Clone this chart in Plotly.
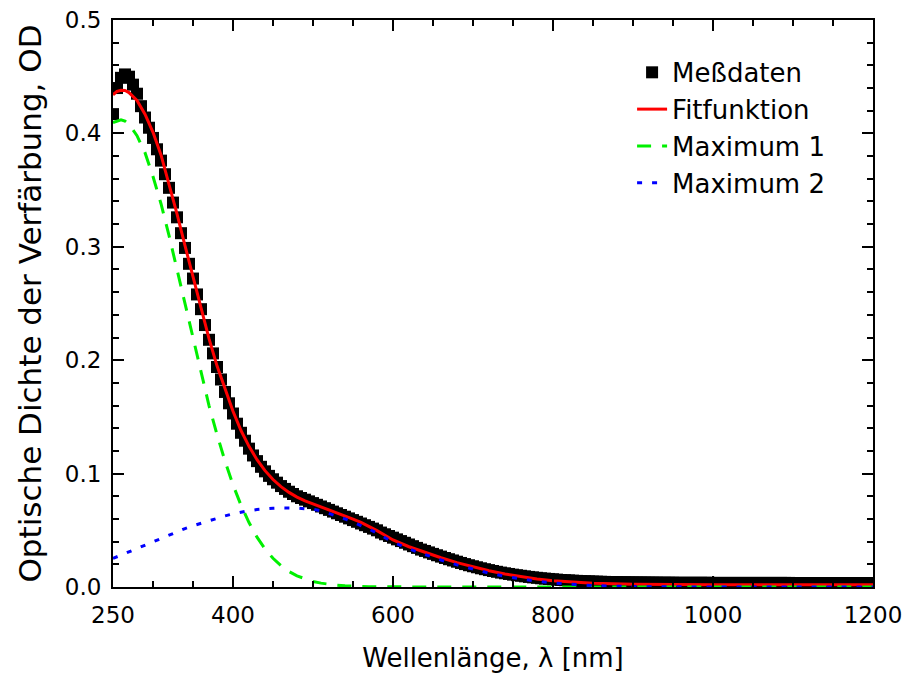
import plotly.graph_objects as go

# Measured data (5 nm grid)
wl_data = list(range(250, 1201, 5))
od_data = [
    0.417, 0.440, 0.449, 0.452, 0.450, 0.443, 0.435, 0.424, 0.414, 0.405,
    0.396, 0.386, 0.376, 0.364, 0.352, 0.339, 0.326, 0.312, 0.299, 0.285,
    0.272, 0.258, 0.245, 0.231, 0.218, 0.206, 0.194, 0.183, 0.172, 0.162,
    0.153, 0.144, 0.136, 0.129, 0.122, 0.116, 0.111, 0.106, 0.102, 0.098,
    0.095, 0.092, 0.089, 0.0865, 0.084, 0.082, 0.080, 0.0785, 0.077, 0.0755,
    0.074, 0.0725, 0.071, 0.0695, 0.068, 0.0665, 0.065, 0.0635, 0.062, 0.0605,
    0.059, 0.0575, 0.056, 0.0545, 0.053, 0.0515, 0.050, 0.048, 0.0465, 0.045,
    0.0435, 0.042, 0.0405, 0.039, 0.0375, 0.036, 0.0345, 0.033, 0.0318, 0.0305,
    0.0292, 0.028, 0.0268, 0.0256, 0.0245, 0.0234, 0.0223, 0.0212, 0.0202, 0.0192,
    0.0183, 0.0174, 0.0165, 0.0157, 0.0149, 0.0141, 0.0134, 0.0127, 0.0121, 0.0115,
    0.0109, 0.0104, 0.0099, 0.0094, 0.0089, 0.0085, 0.0081, 0.0077, 0.0074, 0.0071,
    0.0068, 0.0065, 0.0062, 0.0060, 0.0058, 0.0056, 0.0054, 0.0052, 0.0051, 0.0050,
    0.0048, 0.0047, 0.0046, 0.0045, 0.0044, 0.0044, 0.0043, 0.0042, 0.0042, 0.0041,
    0.0041, 0.0040, 0.0040, 0.0040, 0.0039, 0.0039, 0.0039, 0.0038, 0.0038, 0.0038,
    0.0038, 0.0037, 0.0037, 0.0037, 0.0037, 0.0037, 0.0037, 0.0037, 0.0037, 0.0037,
    0.0036, 0.0036, 0.0036, 0.0036, 0.0036, 0.0036, 0.0036, 0.0036, 0.0036, 0.0036,
    0.0036, 0.0036, 0.0036, 0.0036, 0.0036, 0.0036, 0.0036, 0.0036, 0.0036, 0.0036,
    0.0035, 0.0035, 0.0035, 0.0035, 0.0035, 0.0035, 0.0035, 0.0035, 0.0035, 0.0035,
    0.0035, 0.0035, 0.0035, 0.0035, 0.0035, 0.0035, 0.0035, 0.0035, 0.0035, 0.0035,
    0.0035,
]

# Model curves grid
wl_model = [250, 255, 260, 265, 270,
            280, 290, 300, 310, 320, 330, 340, 350, 360, 370, 380, 390, 400,
            410, 420, 430, 440, 450, 460, 470, 480, 490, 500, 510, 520, 530,
            540, 550, 560, 570, 580, 590, 600,
            620, 640, 660, 680, 700, 720, 740, 760, 780, 800,
            850, 900, 950, 1000, 1100, 1200]

od_fit = [0.434, 0.437, 0.438, 0.4378, 0.436,
          0.429, 0.417, 0.401, 0.381, 0.356, 0.329, 0.301, 0.273, 0.245, 0.219, 0.195, 0.174, 0.155,
          0.138, 0.124, 0.1123, 0.1026, 0.0948, 0.0885, 0.0834, 0.0793, 0.0760, 0.0734, 0.0706, 0.0683, 0.0656,
          0.063, 0.0599, 0.0569, 0.0534, 0.0497, 0.0456, 0.0415,
          0.0355, 0.0305, 0.0258, 0.0215, 0.0177, 0.0143, 0.0114, 0.0089, 0.0070, 0.0055,
          0.0032, 0.0024, 0.0021, 0.0020, 0.0020, 0.0020]

od_max1 = [0.4095, 0.411, 0.412, 0.4108, 0.408,
           0.398, 0.383, 0.362, 0.338, 0.310, 0.280, 0.249, 0.219, 0.189, 0.160, 0.1345, 0.111, 0.0901,
           0.0721, 0.0568, 0.044, 0.0336, 0.0253, 0.0188, 0.0137, 0.0098, 0.007, 0.0049, 0.0034, 0.0023, 0.0015,
           0.001, 0.0006, 0.0004, 0.0002, 0.00015, 0.0001, 0.00005,
           0, 0, 0, 0, 0, 0, 0, 0, 0, 0,
           0, 0, 0, 0, 0, 0]

od_max2 = [0.0252, 0.0267, 0.028, 0.0295, 0.031,
           0.034, 0.037, 0.040, 0.043, 0.046, 0.049, 0.0515, 0.054, 0.0563, 0.0585, 0.0607, 0.0627, 0.0645,
           0.066, 0.0673, 0.0683, 0.069, 0.0695, 0.0697, 0.0697, 0.0695, 0.069, 0.0685, 0.0672, 0.065, 0.0627,
           0.060, 0.0573, 0.0545, 0.051, 0.0475, 0.0435, 0.0395,
           0.0335, 0.0285, 0.0238, 0.0195, 0.0157, 0.0123, 0.0094, 0.0069, 0.005, 0.0035,
           0.0012, 0.0004, 0.0001, 0, 0, 0]

x_ticks = [250, 400, 600, 800, 1000, 1200]
names = ["Meßdaten", "Fitfunktion", "Maximum 1", "Maximum 2"]

FONT = "DejaVu Sans"

fig = go.Figure()
fig.add_trace(go.Scatter(x=wl_data, y=od_data, mode="markers", name=names[0],
                         marker=dict(symbol="square", size=12, color="black",
                                     line=dict(width=0))))
fig.add_trace(go.Scatter(x=wl_model, y=od_fit, mode="lines", name=names[1],
                         line=dict(color="#ff0000", width=3)))
fig.add_trace(go.Scatter(x=wl_model, y=od_max1, mode="lines", name=names[2],
                         line=dict(color="#00f000", width=3, dash="14px,11px")))
fig.add_trace(go.Scatter(x=wl_model, y=od_max2, mode="lines", name=names[3],
                         line=dict(color="#0000ff", width=3, dash="5px,10px")))

axis_common = dict(
    showgrid=False, zeroline=False, showline=True, linecolor="black", linewidth=2,
    mirror="allticks", ticks="inside", ticklen=11, tickwidth=2, tickcolor="black",
    tickfont=dict(family=FONT, size=23, color="black"), automargin=False,
)

fig.update_layout(
    width=905, height=673,
    margin=dict(l=113, r=32, t=20, b=86, autoexpand=False),
    paper_bgcolor="white", plot_bgcolor="white",
    font=dict(family=FONT, color="black"),
    showlegend=True,
    legend=dict(x=0.683, y=0.949, xanchor="left", yanchor="top",
                bgcolor="rgba(0,0,0,0)", borderwidth=0,
                font=dict(family=FONT, size=26, color="black"),
                tracegroupgap=0),
    xaxis=dict(range=[250, 1200], tickmode="array", tickvals=x_ticks,
               ticktext=[str(v) for v in x_ticks], ticklabelstandoff=6,
               minor=dict(tickmode="linear", tick0=250, dtick=50, ticks="inside",
                          ticklen=6, tickwidth=2, tickcolor="black"),
               title=dict(text="Wellenlänge, λ [nm]", font=dict(family=FONT, size=26, color="black"),
                          standoff=26),
               **axis_common),
    yaxis=dict(range=[0, 0.5], tickmode="linear", tick0=0, dtick=0.1, tickformat=".1f",
               ticklabelstandoff=5,
               minor=dict(tickmode="linear", tick0=0, dtick=0.02, ticks="inside",
                          ticklen=6, tickwidth=2, tickcolor="black"),
               title=dict(text="Optische Dichte der Verfärbung, OD",
                          font=dict(family=FONT, size=31, color="black"), standoff=14),
               **axis_common),
)

fig.write_html("out.html")
